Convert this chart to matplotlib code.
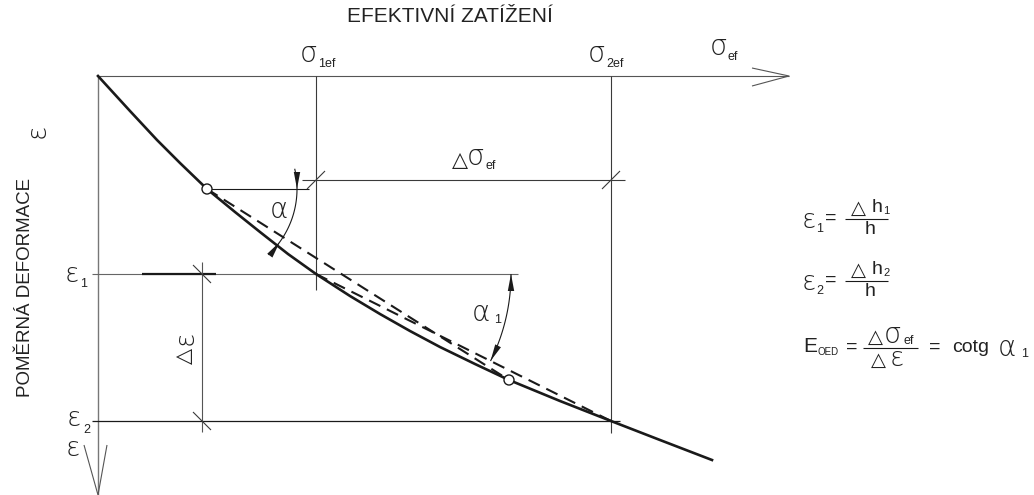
import numpy as np
import matplotlib.pyplot as plt
from matplotlib.patches import Circle, Polygon

plt.rcParams['font.family'] = ['Liberation Sans', 'DejaVu Sans']

# drawing coordinates in pixels of the sheet (x to the right, y downward)
origin = (98, 76)
sigma_tip = 789          # end of the sigma_ef axis arrow
eps_tip = 495            # end of the epsilon axis arrow
sigma_1ef = 316
sigma_2ef = 611
eps_1 = 274
eps_2 = 421

# oedometric curve
curve_x = [98, 130, 157, 180, 207, 235, 260, 288, 316, 350, 380, 410, 440, 475, 509, 560, 611, 660, 712]
curve_y = [76, 111, 140, 163, 189, 212, 232, 254, 274, 296, 314, 331, 347, 364, 380, 401, 421, 440, 460]

point_1 = (207, 189)
point_2 = (509, 380)

ink = '#1a1a1a'
thin = '#3a3a3a'
tc = '#222'
gk = ['DejaVu Sans']     # family for the greek letters

fig = plt.figure(figsize=(10.34, 4.95), dpi=100)
ax = fig.add_axes([0, 0, 1, 1])
ax.set_xlim(0, 1034)
ax.set_ylim(495, 0)
ax.axis('off')


def line(x, y, color=thin, lw=0.8, **kw):
    ax.plot(x, y, color=color, lw=lw, solid_capstyle='butt', **kw)


def tick(x, y, d=9, sense=1):
    # dimension line slash
    line([x - d, x + d], [y + sense * d, y - sense * d], lw=0.8)


def arc(cx, cy, r, t0, t1, heads, hl=17, hw=3.2):
    t = np.radians(np.linspace(t0, t1, 80))
    line(cx + r * np.cos(t), cy + r * np.sin(t), color=ink, lw=0.8)
    for ang, sense in heads:
        a = np.radians(ang)
        tip = np.array([cx + r * np.cos(a), cy + r * np.sin(a)])
        tang = sense * np.array([-np.sin(a), np.cos(a)])
        nrm = np.array([np.cos(a), np.sin(a)])
        base = tip - tang * hl
        ax.add_patch(Polygon([tip, base + nrm * hw, base - nrm * hw],
                             closed=True, color=ink, lw=0))


def greek(x, y, s, size=20, **kw):
    ax.text(x, y, s, ha='center', va='center', fontsize=size, family=gk,
            fontweight='light', color=tc, **kw)


def delta(x, y, size=14, **kw):
    ax.text(x, y, '△', ha='center', va='center', fontsize=size, family=gk,
            color=tc, **kw)


def sub(x, y, s, size=9):
    ax.text(x, y, s, ha='left', va='center', fontsize=size, color=tc)


# axes with open arrows
line([origin[0], sigma_tip], [origin[1], origin[1]], color='#555')
line([752, sigma_tip, 752], [68, origin[1], 86], color='#555')
line([origin[0], origin[0]], [origin[1], eps_tip], color='#777', lw=1.0)
line([84, origin[0], 107], [445, eps_tip, 445], color='#555')

# sigma verticals
line([sigma_1ef, sigma_1ef], [origin[1], 290])
line([sigma_2ef, sigma_2ef], [origin[1], 433])

# epsilon horizontals
line([92, 518], [eps_1, eps_1], color='#666')
line([142, 216], [eps_1, eps_1], color=ink, lw=1.6)
line([92, 620], [eps_2, eps_2], color=ink, lw=0.9)

# horizontal through point 1
line([point_1[0], 309], [point_1[1], point_1[1]], color=ink)

# dimension delta sigma
line([302, 625], [180, 180])
tick(sigma_1ef, 180)
tick(sigma_2ef, 180)

# dimension delta epsilon
line([202, 202], [262, 432], color='#555')
tick(202, eps_1, sense=-1)
tick(202, eps_2, sense=-1)

# curve and secants
ax.plot(curve_x, curve_y, color=ink, lw=1.9, solid_joinstyle='round')
ax.plot([point_1[0], point_2[0]], [point_1[1], point_2[1]], color=ink,
        lw=1.5, linestyle=(0, (6, 3.5)))
ax.plot([sigma_1ef, sigma_2ef], [eps_1, eps_2], color=ink,
        lw=1.5, linestyle=(0, (6, 3.5)))

for p in (point_1, point_2):
    ax.add_patch(Circle(p, 5, facecolor='white', edgecolor=ink, lw=1.0, zorder=5))

# angle arcs
arc(point_1[0], point_1[1], 90, -13, 47, [(0, 1), (36, -1)])
arc(sigma_1ef, eps_1, 195, 0, 26.5, [(0, -1), (26.5, 1)])

# axis titles
ax.text(450, 17, 'EFEKTIVNÍ ZATÍŽENÍ', ha='center', va='center', fontsize=15, color=tc)
ax.text(26, 287, 'POMĚRNÁ DEFORMACE', ha='center', va='center', rotation=90,
        fontsize=13.5, color=tc)
greek(37, 131, 'ε', size=19, rotation=90)

# sigma labels
greek(309, 54, 'σ')
sub(318, 64, '1ef')
greek(597, 54, 'σ')
sub(606, 64, '2ef')
greek(719, 47, 'σ')
sub(728, 57, 'ef')
delta(460, 160, size=15)
greek(476, 157, 'σ')
sub(485, 166, 'ef')

delta(184, 356, size=15, rotation=90)
greek(185, 338, 'ε', size=19, rotation=90)

# angle labels
greek(279, 210, 'α')
greek(481, 313, 'α')
sub(494, 320, '1')

# epsilon labels on the left
greek(72, 274, 'ε', size=19)
sub(80, 284, '1')
greek(74, 419, 'ε', size=19)
sub(83, 430, '2')
greek(73, 449, 'ε', size=19)

# formulas on the right
fs = 14
for n, y0 in [('1', 219), ('2', 281)]:
    greek(809, y0 + 1, 'ε', size=19)
    sub(816, y0 + 10, n)
    ax.text(831, y0 - 1, '=', ha='center', va='center', fontsize=14, color=tc)
    delta(858, y0 - 11)
    ax.text(877, y0 - 11, 'h', ha='center', va='center', fontsize=fs, color=tc)
    ax.text(883, y0 - 8, n, ha='left', va='center', fontsize=8, color=tc)
    line([845, 888], [y0, y0], color=ink, lw=0.8)
    ax.text(870, y0 + 11, 'h', ha='center', va='center', fontsize=fs, color=tc)

y3 = 348
ax.text(803, y3 - 1, 'E', ha='left', va='center', fontsize=15, color=tc)
ax.text(817, y3 + 4, 'OED', ha='left', va='center', fontsize=7, color=tc)
ax.text(852, y3 - 1, '=', ha='center', va='center', fontsize=14, color=tc)
delta(875, y3 - 11)
greek(893, y3 - 13, 'σ')
sub(903, y3 - 7, 'ef')
line([863, 918], [y3, y3], color=ink, lw=0.8)
delta(878, y3 + 12)
greek(897, y3 + 11, 'ε', size=19)
ax.text(935, y3 - 1, '=', ha='center', va='center', fontsize=14, color=tc)
ax.text(952, y3, 'cotg', ha='left', va='center', fontsize=fs, color=tc)
greek(1007, y3, 'α')
sub(1021, y3 + 6, '1')

fig.savefig('out.png', dpi=100)
